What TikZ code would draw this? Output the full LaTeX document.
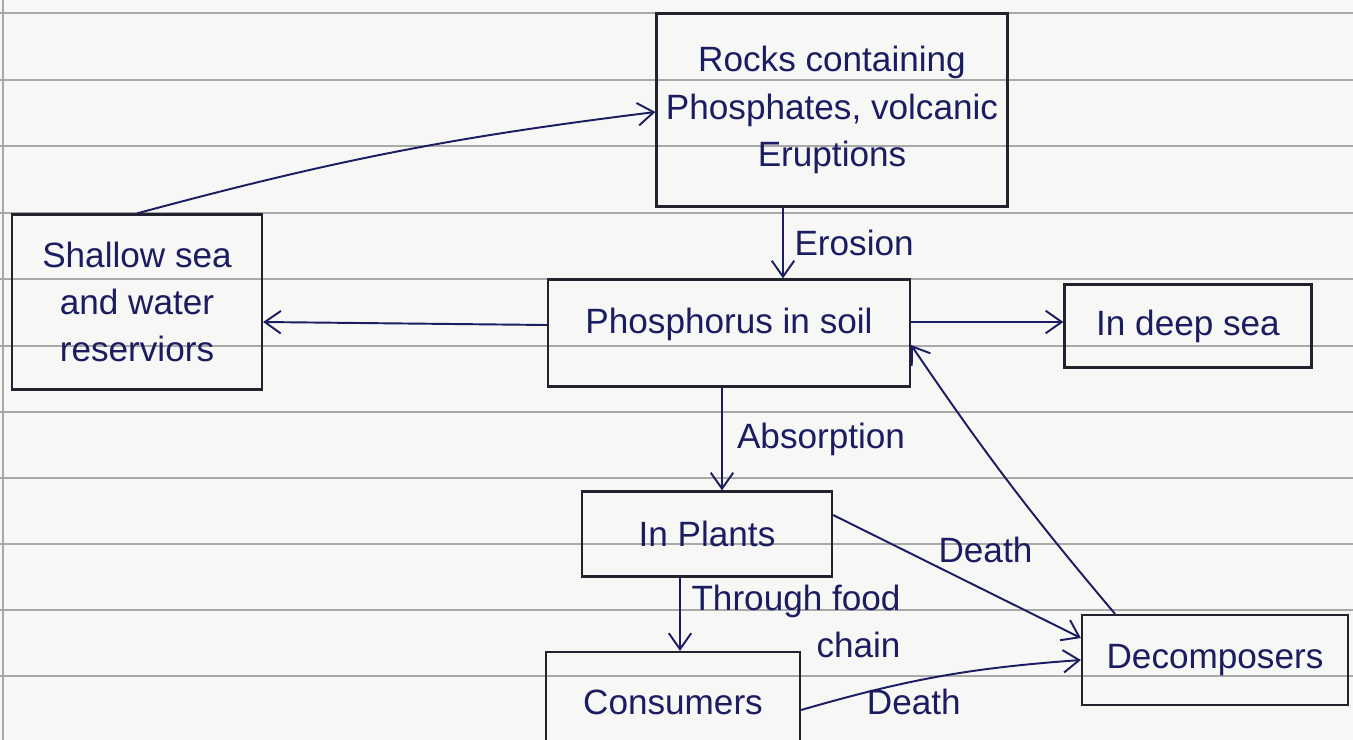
\documentclass[tikz,border=0pt]{standalone}
\usepackage{fontspec}
\setmainfont{Liberation Sans}
\usetikzlibrary{arrows.meta}
\definecolor{paper}{HTML}{F7F7F5}
\definecolor{rule}{HTML}{A9A9A9}
\definecolor{boxink}{HTML}{23232F}
\definecolor{ink}{HTML}{1C1C62}
\tikzset{
  hand/.style={font=\fontsize{20}{27}\selectfont, text=ink},
  box/.style={draw=boxink, line width=1.3pt, rectangle, hand, align=center, inner sep=0pt},
  flow/.style={draw=ink, line width=1.1pt, -{Straight Barb[length=3.2mm,width=4.5mm,line width=1.1pt]}},
  lbl/.style={hand, inner sep=2pt}
}
\begin{document}
\begin{tikzpicture}[x=0.02cm,y=-0.02cm]
\useasboundingbox (0,0) rectangle (1353,740);
\fill[paper] (0,0) rectangle (1353,740);
% ruled paper
\foreach \yy in {13,80,146,213,279,346,412,478,544,610,676}
  \draw[rule, line width=0.9pt] (0,\yy) -- (1353,\yy);
\draw[rule, line width=0.9pt] (3,0) -- (3,740);

% nodes
\node[box, minimum width=7.02cm, minimum height=3.86cm] (rocks) at (832,110)
  {Rocks containing\\Phosphates, volcanic\\Eruptions};
\node[box, minimum width=5.0cm, minimum height=3.5cm] (shallow) at (137,302)
  {Shallow sea\\and water\\reserviors};
\node[box, minimum width=7.24cm, minimum height=2.14cm, text depth=0.5cm] (soil) at (729,333)
  {Phosphorus in soil};
\node[box, minimum width=4.94cm, minimum height=1.66cm] (deep) at (1188,326)
  {In deep sea};
\node[box, minimum width=5.0cm, minimum height=1.7cm] (plants) at (707,534)
  {In Plants};
\node[box, minimum width=5.08cm, minimum height=2.0cm] (consumers) at (673,702)
  {Consumers};
\node[box, minimum width=5.32cm, minimum height=1.8cm] (decomp) at (1215,660)
  {Decomposers};

% connectors
\draw[flow] (shallow.north) to[bend left=4] ([yshift=-0.04cm]rocks.west);
\draw[flow] ([xshift=-0.98cm]rocks.south) -- node[lbl, right, xshift=4pt] {Erosion} ([xshift=1.08cm]soil.north);
\draw[flow] ([yshift=0.16cm]soil.west) -- ([yshift=-0.4cm]shallow.east);
\draw[flow] ([yshift=0.22cm]soil.east) -- ([yshift=0.08cm]deep.west);
\draw[flow] ([xshift=-0.14cm]soil.south) -- node[lbl, right, xshift=6pt] {Absorption} ([xshift=0.3cm]plants.north);
\draw[flow] ([xshift=-0.54cm]plants.south) -- node[lbl, right, align=right, xshift=4pt, yshift=-4pt] {Through food\\chain\hspace{0.8em}} ([xshift=0.14cm]consumers.north);
\draw[flow] ([yshift=0.38cm]plants.east) -- node[lbl, pos=0.45, above right, xshift=-6pt, yshift=2pt] {Death} ([yshift=0.44cm]decomp.west);
\draw[flow] ([yshift=-0.16cm]consumers.east) to[bend left=6] node[lbl, below, pos=0.4, yshift=-2pt] {Death} (decomp.west);
\draw[flow] ([xshift=-2.0cm]decomp.north) to[bend left=3] ([yshift=-0.24cm]soil.east);
\end{tikzpicture}
\end{document}
